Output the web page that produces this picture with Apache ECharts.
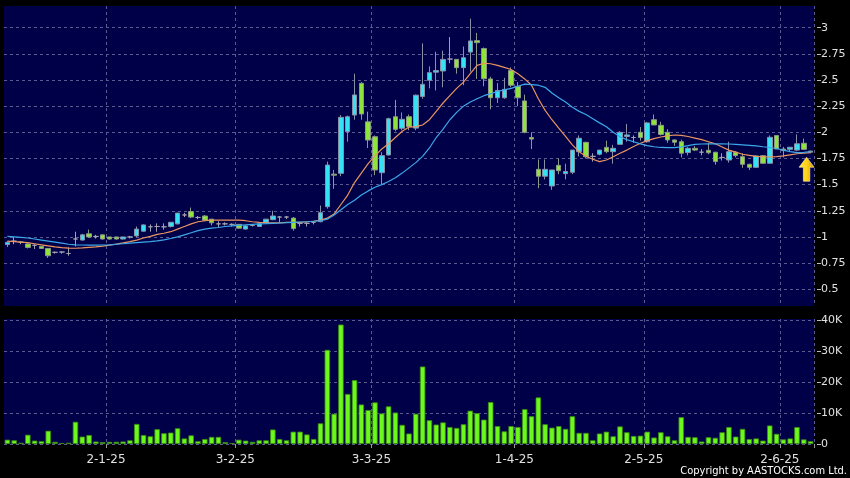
<!DOCTYPE html>
<html><head><meta charset="utf-8">
<script src="https://cdn.jsdelivr.net/npm/echarts@6/dist/echarts.min.js"></script>
<style>html,body{margin:0;padding:0;background:#000;}#c{width:850px;height:478px;}</style>
</head><body><div id="c"></div>
<script>
// ---- data ----
const dates = [
'9-12-24','10-12-24','11-12-24','12-12-24','13-12-24','16-12-24','17-12-24','18-12-24','19-12-24','20-12-24','23-12-24','24-12-24','27-12-24','30-12-24','31-12-24',
'2-1-25','3-1-25','6-1-25','7-1-25','8-1-25','9-1-25','10-1-25','13-1-25','14-1-25','15-1-25','16-1-25','17-1-25','20-1-25','21-1-25','22-1-25','23-1-25','24-1-25','27-1-25','28-1-25',
'3-2-25','4-2-25','5-2-25','6-2-25','7-2-25','10-2-25','11-2-25','12-2-25','13-2-25','14-2-25','17-2-25','18-2-25','19-2-25','20-2-25','21-2-25','24-2-25','25-2-25','26-2-25','27-2-25','28-2-25',
'3-3-25','4-3-25','5-3-25','6-3-25','7-3-25','10-3-25','11-3-25','12-3-25','13-3-25','14-3-25','17-3-25','18-3-25','19-3-25','20-3-25','21-3-25','24-3-25','25-3-25','26-3-25','27-3-25','28-3-25','31-3-25',
'1-4-25','2-4-25','3-4-25','7-4-25','8-4-25','9-4-25','10-4-25','11-4-25','14-4-25','15-4-25','16-4-25','17-4-25','22-4-25','23-4-25','24-4-25','25-4-25','28-4-25','29-4-25','30-4-25',
'2-5-25','6-5-25','7-5-25','8-5-25','9-5-25','12-5-25','13-5-25','14-5-25','15-5-25','16-5-25','19-5-25','20-5-25','21-5-25','22-5-25','23-5-25','26-5-25','27-5-25','28-5-25','29-5-25','30-5-25',
'2-6-25','3-6-25','4-6-25','5-6-25','6-6-25'
];
const tickLabels = ['2-1-25','3-2-25','3-3-25','1-4-25','2-5-25','2-6-25'];
const priceTicks = [0.5,0.75,1,1.25,1.5,1.75,2,2.25,2.5,2.75,3];
const volumeTicks = [0,10,20,30,40];

const opens = [
.927,.96,.95,.933,.92,.91,.89,.853,.856,.842,
.98,.97,1.03,1.005,1.02,1.0,1.0,.98,1.0,1.01,
1.055,1.097,1.10,1.097,1.10,1.125,1.21,1.243,1.186,1.20,
1.17,1.125,1.125,1.12,1.12,1.075,1.11,1.10,1.135,1.165,
1.19,1.19,1.18,1.13,1.13,1.14,1.146,1.289,1.60,1.608,
2.006,2.165,2.468,2.10,1.958,1.614,1.783,2.149,2.038,2.149,
2.04,2.343,2.497,2.575,2.586,2.70,2.697,2.618,2.767,2.876,
2.80,2.51,2.33,2.33,2.59,2.44,2.30,1.95,1.646,1.58,
1.487,1.684,1.605,1.618,1.815,1.904,1.77,1.79,1.856,1.815,
1.885,1.96,1.95,2.0,1.91,2.12,2.067,2.0,1.927,1.91,
1.806,1.847,1.81,1.828,1.81,1.76,1.735,1.81,1.767,1.694,
1.665,1.777,1.704,1.97,1.84,1.837,1.83,1.895,1.82];
const closes = [
.949,.96,.95,.90,.92,.89,.82,.853,.856,.842,
.98,1.02,1.0,1.005,.98,.98,.98,1.0,1.0,1.075,
1.115,1.097,1.10,1.097,1.14,1.228,1.21,1.19,1.186,1.16,
1.135,1.125,1.125,1.12,1.084,1.105,1.11,1.125,1.17,1.20,
1.19,1.19,1.08,1.13,1.13,1.14,1.232,1.687,1.59,2.143,
2.149,2.357,2.175,1.926,1.64,1.777,2.13,2.028,2.124,2.054,
2.355,2.458,2.57,2.59,2.697,2.70,2.618,2.713,2.873,2.857,
2.512,2.33,2.40,2.41,2.45,2.33,2.0,1.935,1.58,1.646,
1.64,1.633,1.625,1.83,1.943,1.767,1.77,1.83,1.815,1.847,
2.0,1.975,1.95,1.95,2.09,2.07,1.98,1.927,1.905,1.80,
1.847,1.83,1.81,1.805,1.72,1.76,1.815,1.777,1.694,1.665,
1.774,1.704,1.952,1.84,1.825,1.857,1.89,1.837,1.81];
const lows = [
.904,.93,.93,.89,.885,.89,.80,.84,.84,.82,
.91,.965,.99,.985,.975,.975,.975,.975,.985,1.0,
1.05,1.05,1.05,1.07,1.09,1.12,1.19,1.18,1.17,1.15,
1.11,1.09,1.11,1.10,1.08,1.07,1.10,1.095,1.13,1.16,
1.14,1.17,1.06,1.10,1.10,1.12,1.14,1.27,1.46,1.58,
1.91,2.12,2.12,1.85,1.59,1.50,1.78,2.01,2.02,2.02,
2.02,2.32,2.42,2.40,2.43,2.66,2.56,2.45,2.58,2.51,
2.44,2.22,2.28,2.32,2.43,2.25,1.99,1.84,1.465,1.55,
1.45,1.60,1.55,1.60,1.77,1.75,1.72,1.78,1.80,1.70,
1.88,1.91,1.90,1.92,1.90,2.07,1.97,1.90,1.87,1.76,
1.78,1.82,1.78,1.79,1.69,1.73,1.71,1.76,1.66,1.64,
1.66,1.70,1.70,1.84,1.76,1.82,1.82,1.83,1.80];
const highs = [
.959,1.0,.96,.94,.93,.91,.89,.86,.86,.90,
1.05,1.03,1.07,1.02,1.02,1.0,1.0,1.0,1.01,1.10,
1.12,1.12,1.13,1.13,1.14,1.23,1.23,1.28,1.20,1.21,
1.17,1.15,1.14,1.13,1.12,1.11,1.12,1.13,1.17,1.25,
1.20,1.20,1.19,1.14,1.14,1.15,1.30,1.72,1.64,2.165,
2.16,2.56,2.48,2.197,1.97,1.81,2.14,2.31,2.19,2.17,
2.36,2.85,2.63,2.77,2.78,2.91,2.70,2.82,3.086,2.95,
2.81,2.53,2.47,2.52,2.62,2.48,2.36,2.0,1.74,1.74,
1.64,1.75,1.70,1.83,1.97,1.91,1.80,1.83,1.92,1.88,
2.01,2.08,1.97,2.05,2.10,2.17,2.10,2.03,1.93,1.93,
1.86,1.87,1.84,1.90,1.81,1.80,1.91,1.82,1.80,1.70,
1.78,1.78,1.97,1.97,1.86,1.86,1.98,1.94,1.825];
// volume in thousands
const volumes = [
1.4,1.2,0.4,3.0,1.1,0.9,4.3,0.7,0.3,0.4,
7.2,2.4,2.9,0.8,0.6,0.7,0.7,0.8,1.2,6.5,
2.9,2.5,4.8,3.5,3.7,5.1,1.8,2.8,0.9,1.6,
2.3,2.3,0.6,0.3,1.4,1.1,0.7,1.2,1.2,4.7,
1.6,1.2,4.0,4.0,3.1,1.6,6.7,30.5,9.8,38.7,
16.2,20.7,12.8,11.0,13.5,9.9,12.2,10.2,6.2,3.4,
9.8,25.1,7.7,6.3,7.0,5.5,5.2,6.4,10.8,10.0,
7.9,13.6,5.8,4.1,5.8,5.5,11.3,9.0,15.1,6.4,
5.3,5.8,4.9,9.0,3.6,3.6,1.2,3.4,4.0,2.5,
5.7,3.8,2.6,2.7,4.0,2.1,3.8,2.5,1.2,8.7,
2.3,2.2,0.8,2.2,2.0,3.8,5.5,2.4,4.9,1.6,
1.8,1.1,6.0,3.3,1.5,1.8,5.5,1.5,0.9];
const maShort = [
.96,.955,.95,.945,.935,.925,.915,.905,.898,.894,
.892,.895,.90,.905,.912,.922,.932,.943,.955,.97,
.99,1.005,1.025,1.035,1.05,1.075,1.10,1.125,1.145,1.155,
1.16,1.16,1.16,1.16,1.16,1.155,1.145,1.14,1.136,1.135,
1.135,1.14,1.14,1.14,1.145,1.15,1.16,1.18,1.22,1.31,
1.40,1.52,1.61,1.70,1.775,1.84,1.89,1.95,2.01,2.05,
2.055,2.07,2.12,2.20,2.28,2.35,2.42,2.48,2.56,2.64,
2.66,2.655,2.64,2.62,2.60,2.56,2.51,2.45,2.32,2.21,
2.12,2.04,1.96,1.88,1.815,1.77,1.742,1.72,1.735,1.767,
1.80,1.83,1.865,1.895,1.92,1.94,1.955,1.965,1.974,1.97,
1.96,1.945,1.93,1.91,1.89,1.86,1.83,1.81,1.79,1.78,
1.77,1.767,1.765,1.767,1.775,1.785,1.795,1.80,1.805];
const maLong = [
1.005,1.0,.995,.99,.98,.97,.96,.95,.94,.93,
.925,.923,.922,.922,.923,.925,.93,.935,.94,.945,
.95,.955,.962,.972,.985,1.0,1.02,1.04,1.06,1.075,
1.085,1.09,1.10,1.105,1.11,1.115,1.12,1.125,1.127,1.13,
1.133,1.136,1.14,1.143,1.145,1.15,1.155,1.17,1.21,1.26,
1.31,1.35,1.40,1.44,1.475,1.50,1.53,1.565,1.61,1.66,
1.71,1.77,1.85,1.95,2.03,2.12,2.19,2.25,2.29,2.32,
2.35,2.37,2.39,2.405,2.42,2.44,2.46,2.455,2.45,2.43,
2.375,2.33,2.29,2.24,2.20,2.17,2.13,2.09,2.053,2.0,
1.958,1.93,1.91,1.89,1.872,1.862,1.855,1.853,1.853,1.86,
1.872,1.885,1.888,1.89,1.89,1.89,1.888,1.885,1.88,1.875,
1.87,1.862,1.855,1.845,1.83,1.815,1.805,1.808,1.815];

// ---- chart ----
const candleData = dates.map((d, i) => [opens[i], closes[i], lows[i], highs[i]]);
const last = dates.length - 1;
const isMonthStart = (idx) => tickLabels.indexOf(dates[idx]) >= 0;
const gridLine = { color: '#5a5a90', type: [3, 3], width: 1 };
const labelColor = '#e0e0e0';

const chart = echarts.init(document.getElementById('c'));
chart.setOption({
  backgroundColor: '#000',
  animation: false,
  textStyle: { fontFamily: 'DejaVu Sans' },
  title: {
    text: 'Copyright by AASTOCKS.com Ltd.', right: 3, bottom: 1, padding: 0,
    textStyle: { color: '#ffffff', fontSize: 11, fontWeight: 'normal', fontFamily: 'DejaVu Sans Condensed' }
  },
  grid: [
    { left: 4, right: 36, top: 6, height: 300, show: true, backgroundColor: '#000048', borderWidth: 0 },
    { left: 4, right: 36, top: 319, height: 125, show: true, backgroundColor: '#000048', borderWidth: 0 }
  ],
  xAxis: [
    { type: 'category', gridIndex: 0, data: dates, boundaryGap: true,
      axisLine: { show: false }, axisTick: { show: false }, axisLabel: { show: false },
      splitLine: { show: true, interval: (i) => isMonthStart(i), lineStyle: gridLine } },
    { type: 'category', gridIndex: 1, data: dates, boundaryGap: true,
      axisLine: { show: false },
      axisTick: { show: true, interval: (i) => isMonthStart(i), length: 4, lineStyle: { color: '#9a9a9a' } },
      axisLabel: { show: true, interval: (i) => isMonthStart(i), color: labelColor, fontSize: 12, margin: 10, padding: [0, 7, 0, 0] },
      splitLine: { show: true, interval: (i) => isMonthStart(i), lineStyle: gridLine } }
  ],
  yAxis: [
    { type: 'value', gridIndex: 0, position: 'right', min: 0.34, max: 3.207, offset: 3,
      axisLine: { show: false },
      axisTick: { show: true, customValues: priceTicks, length: 4, lineStyle: { color: '#bdbdbd' } },
      axisLabel: { customValues: priceTicks, color: labelColor, fontSize: 11, margin: 4 },
      splitLine: { show: true, lineStyle: gridLine } },
    { type: 'value', gridIndex: 1, position: 'right', min: 0, max: 40.5, offset: 3,
      axisLine: { show: false },
      axisTick: { show: true, customValues: volumeTicks, length: 4, lineStyle: { color: '#bdbdbd' } },
      axisLabel: { customValues: volumeTicks, color: labelColor, fontSize: 11, margin: 4,
        formatter: (v) => v === 0 ? '0' : v + 'K' },
      splitLine: { show: true, lineStyle: gridLine } }
  ],
  series: [
    { type: 'candlestick', xAxisIndex: 0, yAxisIndex: 0, data: candleData, barWidth: 5,
      itemStyle: { color: '#35e2f4', color0: '#8ee43a', borderColor: '#8890a8', borderColor0: '#8c9888',
        borderColorDoji: '#a0a0b0', borderWidth: 1 },
      markPoint: {
        silent: true, animation: false,
        symbol: 'path://M7,0 L14,10 L10,10 L10,24 L4,24 L4,10 L0,10 Z',
        symbolSize: [15, 24], symbolKeepAspect: false, symbolOffset: [-4, 16],
        label: { show: false },
        itemStyle: { color: { type: 'linear', x: 0, y: 0, x2: 1, y2: 0,
          colorStops: [{ offset: 0, color: '#ffe84a' }, { offset: 0.5, color: '#ffd21a' }, { offset: 1, color: '#d99a00' }] },
          borderColor: '#fff3a8', borderWidth: 0.6 },
        data: [{ coord: [dates[last], lows[last]] }]
      } },
    { type: 'line', xAxisIndex: 0, yAxisIndex: 0, data: maShort, showSymbol: false, smooth: false,
      lineStyle: { color: '#ea9460', width: 1.2 }, z: 3 },
    { type: 'line', xAxisIndex: 0, yAxisIndex: 0, data: maLong, showSymbol: false, smooth: false,
      lineStyle: { color: '#3ca8ea', width: 1.2 }, z: 3 },
    { type: 'bar', xAxisIndex: 1, yAxisIndex: 1, data: volumes, barWidth: '80%',
      itemStyle: { color: '#6cf81c', borderColor: '#3b8c12', borderWidth: 0.8 } }
  ]
});
</script>
</body></html>
